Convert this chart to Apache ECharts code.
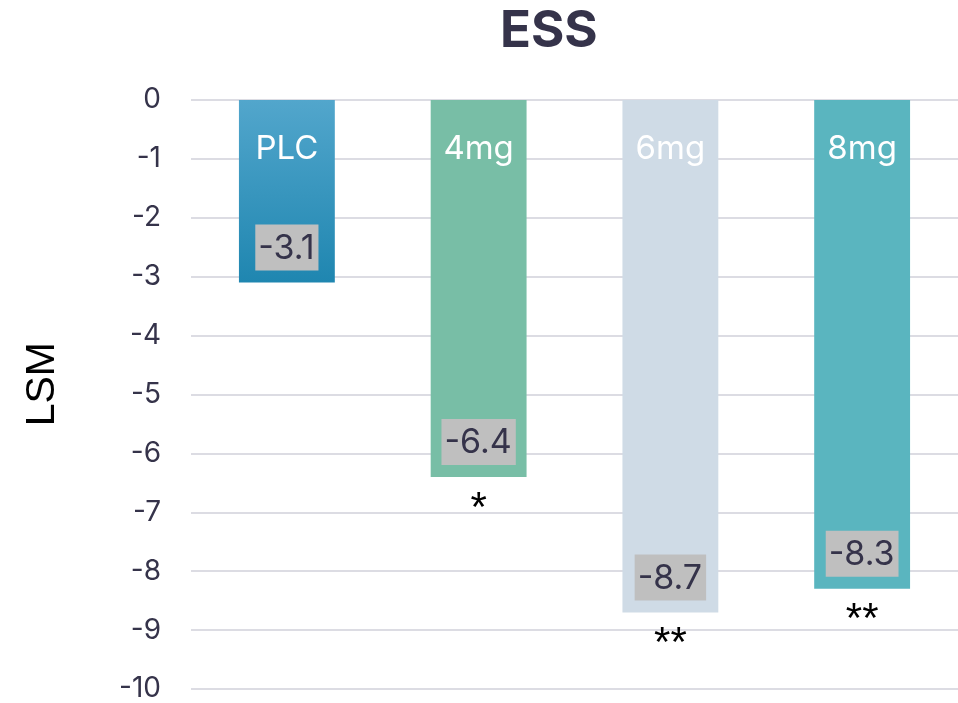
<!DOCTYPE html>
<html>
<head>
<meta charset="utf-8">
<script src="https://cdn.jsdelivr.net/npm/echarts@6/dist/echarts.min.js"></script>
<style>
  html, body { margin: 0; padding: 0; background: #ffffff; }
  #chart { width: 958px; height: 703px; }
</style>
</head>
<body>
<div id="chart"></div>
<script>
// ESS change from baseline (least-squares mean) by dose group
const categories = ['PLC', '4mg', '6mg', '8mg'];
const lsmValues = [-3.1, -6.4, -8.7, -8.3];
const significance = ['', '*', '**', '**'];
const yTicks = [0, -1, -2, -3, -4, -5, -6, -7, -8, -9, -10];

const barColors = [
  new echarts.graphic.LinearGradient(0, 0, 0, 1, [
    { offset: 0, color: '#52a6cc' },
    { offset: 1, color: '#1f86b0' }
  ]),
  '#78bea6',
  '#cfdbe6',
  '#5ab5bf'
];

const FONT = 'Inter, "Noto Sans", sans-serif';
const TEXT_DARK = '#35334a';

const chart = echarts.init(document.getElementById('chart'), null, { renderer: 'canvas' });

chart.setOption({
  animation: false,
  backgroundColor: '#ffffff',
  title: {
    text: 'ESS',
    left: 495,
    top: 1,
    textStyle: { fontFamily: FONT, fontSize: 51, fontWeight: 'bold', color: TEXT_DARK }
  },
  graphic: [{
    type: 'text',
    left: 22,
    top: 342,
    rotation: Math.PI / 2,
    style: { text: 'LSM', font: '41px "Liberation Sans", Arial, sans-serif', fill: '#000000' }
  }],
  grid: { left: 191, right: 0, top: 100, bottom: 14 },
  xAxis: {
    type: 'category',
    data: categories,
    position: 'top',
    axisLine: { show: false },
    axisTick: { show: false },
    axisLabel: { show: false }
  },
  yAxis: {
    type: 'value',
    min: -10,
    max: 0,
    interval: 1,
    axisLine: { show: false },
    axisTick: { show: false },
    axisLabel: {
      margin: 30,
      fontFamily: FONT,
      fontSize: 28,
      color: TEXT_DARK,
      formatter: v => (yTicks.includes(v) ? String(v) : '')
    },
    splitLine: { lineStyle: { color: '#dcdce3', width: 2 } }
  },
  series: [
    {
      // bars with group name inside the top
      type: 'bar',
      barWidth: '50%',
      data: lsmValues.map((v, i) => ({ value: v, itemStyle: { color: barColors[i] } })),
      label: {
        show: true,
        position: 'insideTop',
        distance: 33,
        formatter: p => categories[p.dataIndex],
        fontFamily: FONT,
        fontSize: 33,
        color: '#ffffff'
      },
      z: 2
    },
    {
      // value tags near the end of each bar
      type: 'bar',
      barWidth: '50%',
      barGap: '-100%',
      data: lsmValues,
      itemStyle: { color: 'rgba(0,0,0,0)' },
      label: {
        show: true,
        position: 'insideBottom',
        distance: 12,
        formatter: p => p.value.toFixed(1),
        fontFamily: FONT,
        fontSize: 34,
        lineHeight: 40,
        color: TEXT_DARK,
        backgroundColor: '#bfbfbf',
        padding: [4, 4, 2, 3]
      },
      z: 3
    },
    {
      // significance markers below the bars
      type: 'bar',
      barWidth: '50%',
      barGap: '-100%',
      data: lsmValues,
      itemStyle: { color: 'rgba(0,0,0,0)' },
      label: {
        show: true,
        position: 'bottom',
        distance: 11,
        formatter: p => significance[p.dataIndex],
        fontFamily: '"Liberation Sans", Arial, sans-serif',
        fontSize: 42,
        color: '#000000'
      },
      z: 3
    }
  ]
});
</script>
</body>
</html>
